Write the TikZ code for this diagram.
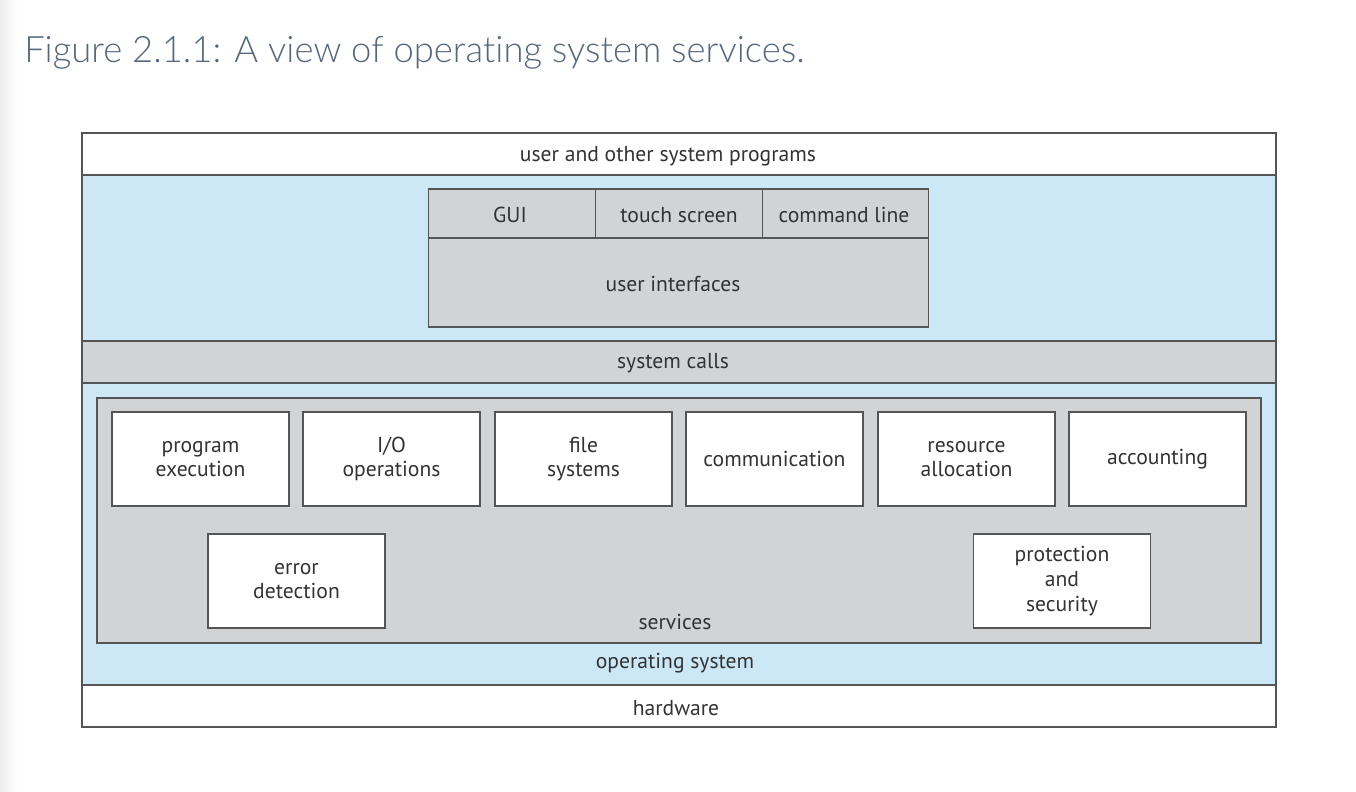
\documentclass[tikz,border=0pt]{standalone}
\usepackage{fontspec}
\setmainfont{PT Sans}
\newfontfamily\titlefont{Lato Light}[Ligatures={NoCommon,NoRare,NoDiscretionary}]
\definecolor{bandblue}{HTML}{CCE7F6}
\definecolor{grayf}{HTML}{D2D3D5}
\definecolor{edge}{HTML}{555555}
\definecolor{txt}{HTML}{333333}
\definecolor{titlecol}{HTML}{56677A}
\definecolor{lgray}{HTML}{EDEDED}
\begin{document}
\begin{tikzpicture}[x=0.75pt,y=-0.75pt,
  lbl/.style={font=\fontsize{16.2}{18.5}\selectfont, text=txt, align=center, inner sep=0pt},
  ln/.style={draw=edge, line width=1.25pt},
  wbox/.style={lbl, ln, fill=white, minimum width=132.75pt, minimum height=70.5pt}]
\useasboundingbox (0,0) rectangle (1356,792);
\fill[white] (0,0) rectangle (1356,792);
\shade[left color=lgray, right color=white] (0,0) rectangle (18,792);
\node[anchor=base west, inner sep=0pt, text=titlecol, font=\titlefont\fontsize{27.3}{31}\selectfont] (title) at (24,63) {Figure 2.1.1: A view of operating system services.};
% bands
\fill[white] (82,133) rectangle (1276,175);
\fill[bandblue] (82,175) rectangle (1276,341);
\fill[grayf] (82,341) rectangle (1276,383);
\fill[bandblue] (82,383) rectangle (1276,685);
\fill[white] (82,685) rectangle (1276,727);
\draw[ln] (82,175) -- (1276,175);
\draw[ln] (82,341) -- (1276,341);
\draw[ln] (82,383) -- (1276,383);
\draw[ln] (82,685) -- (1276,685);
\draw[ln] (82,133) rectangle (1276,727);
\node[lbl] (userprog) at (668,156) {user and other system programs};
\node[lbl] (syscalls) at (673,363) {system calls};
\node[lbl] (os) at (675,663) {operating system};
\node[lbl] (hw) at (676,708) {hardware};
% user interfaces
\draw[ln, fill=grayf] (428.5,189) rectangle (928.5,327);
\draw[ln] (428.5,238) -- (928.5,238);
\draw[ln] (595.5,189) -- (595.5,238);
\draw[ln] (762.5,189) -- (762.5,238);
\node[lbl] (gui) at (510,215) {GUI};
\node[lbl] (touch) at (679,215) {touch screen};
\node[lbl] (cmd) at (844,215) {command line};
\node[lbl] (ui) at (673,284) {user interfaces};
% services
\draw[ln, fill=grayf] (97,398) rectangle (1261,643);
\node[lbl] (services) at (675,622) {services};
\node[wbox] (pe) at (200.5,459) {program\\execution};
\node[wbox] (io) at (391.5,459) {I/O\\operations};
\node[wbox] (fs) at (583.5,459) {file\\systems};
\node[wbox] (comm) at (774.5,459) {communication};
\node[wbox] (ra) at (966.5,459) {resource\\allocation};
\node[wbox] (acc) at (1157.5,459) {accounting};
\node[wbox] (err) at (296.5,581) {error\\detection};
\node[wbox] (prot) at (1062,581) {protection\\and\\security};
\end{tikzpicture}
\end{document}
